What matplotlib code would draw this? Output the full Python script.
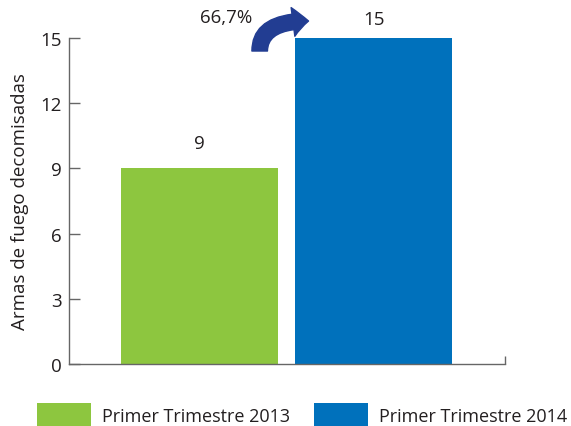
import matplotlib
matplotlib.use("Agg")
import matplotlib.pyplot as plt
from matplotlib.patches import Patch, FancyArrowPatch

# data
categories = ["Primer Trimestre 2013", "Primer Trimestre 2014"]
values = [9, 15]
colors = ["#8dc63f", "#0071bc"]
y_ticks = [0, 3, 6, 9, 12, 15]
change_label = "66,7%"

plt.rcParams["font.family"] = ["Open Sans", "DejaVu Sans"]
TEXT = "#231f20"

fig = plt.figure(figsize=(5.71, 4.27), dpi=100)
ax = fig.add_axes([0.1208, 0.1452, 0.7636, 0.7635])

positions = list(range(len(values)))
bars = ax.bar(positions, values, width=0.9, color=colors)

ax.set_xlim(-0.748, 1.751)
ax.set_ylim(0, 15)
ax.set_yticks(y_ticks)
ax.set_xticks([1.751])
ax.set_xticklabels([""])
ax.tick_params(axis="y", direction="in", length=8, width=1, color="#666666",
               labelsize=13.5, labelcolor=TEXT, pad=5)
ax.tick_params(axis="x", direction="in", length=6, width=1, color="#666666")
for side in ("top", "right"):
    ax.spines[side].set_visible(False)
for side in ("left", "bottom"):
    ax.spines[side].set_color("#666666")
    ax.spines[side].set_linewidth(1)
ax.set_ylabel("Armas de fuego decomisadas", fontsize=13.5, color=TEXT, labelpad=8)

# value labels above the bars
for rect, value, pad in zip(bars, values, [12, 7]):
    ax.annotate(str(value), (rect.get_x() + rect.get_width() / 2, value),
                xytext=(0, pad), textcoords="offset points",
                ha="center", va="bottom", fontsize=13.5, color=TEXT,
                annotation_clip=False)

# curved growth arrow
arrow = FancyArrowPatch((0.345, 14.4), (0.625, 15.78),
                        connectionstyle="angle3,angleA=90,angleB=0",
                        arrowstyle="simple,head_length=0.7,head_width=1.3,tail_width=0.7",
                        mutation_scale=16, color="#223d92", clip_on=False,
                        shrinkA=0, shrinkB=0)
ax.add_patch(arrow)
ax.text(0.30, 15.95, change_label, ha="right", va="center", fontsize=13.5,
        color=TEXT, clip_on=False)

handles = [Patch(facecolor=c, edgecolor="none") for c in colors]
fig.legend(handles, categories, loc="center left",
           bbox_to_anchor=(37 / 571, 11 / 427), ncol=2, frameon=False,
           fontsize=13, handlelength=3.0, handleheight=1.6,
           handletextpad=0.6, columnspacing=1.3, borderpad=0,
           borderaxespad=0, labelcolor=TEXT)

fig.savefig("out.png", dpi=100)
